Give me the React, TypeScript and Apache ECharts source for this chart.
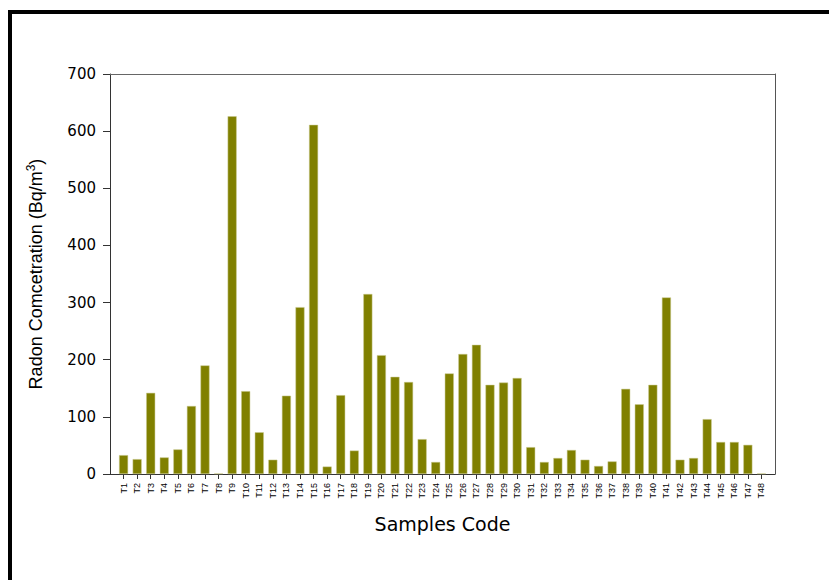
import React, { useEffect, useRef } from "react";
import * as echarts from "echarts";

const categories: string[] = Array.from({ length: 48 }, (_, i) => "T" + (i + 1));
const radonValues: number[] = [
  33, 26, 142, 29, 43, 119, 190, 1, 626, 145,
  73, 25, 137, 292, 611, 13, 138, 41, 315, 208,
  170, 161, 61, 21, 176, 210, 226, 156, 160, 168,
  47, 21, 28, 42, 25, 14, 22, 149, 122, 156,
  309, 25, 28, 96, 56, 56, 51, 1,
];
const yTicks = { min: 0, max: 700, interval: 100 };

export default function App() {
  const ref = useRef<HTMLDivElement>(null);
  useEffect(() => {
    document.body.style.margin = "0";
    if (!ref.current) return;
    const chart = echarts.init(ref.current, null, { renderer: "svg" });
    const padCats = ["", ...categories, ""];
    const padVals: (number | string)[] = ["-", ...radonValues, "-"];
    chart.setOption({
      animation: false,
      backgroundColor: "#fff",
      grid: { left: 110, top: 74, right: 54, bottom: 106 },
      graphic: [
        {
          type: "rect",
          shape: { x: 10, y: 12, width: 900, height: 700 },
          style: { fill: "none", stroke: "#000", lineWidth: 4 },
          silent: true,
        },
      ],
      xAxis: [
        {
          type: "category",
          data: padCats,
          boundaryGap: false,
          axisLine: { show: true, onZero: false, lineStyle: { color: "#333", width: 1 } },
          axisTick: {
            show: true,
            length: 5,
            lineStyle: { color: "#333" },
            interval: (_i: number, v: string) => v !== "",
          },
          axisLabel: {
            interval: 0,
            rotate: 90,
            fontSize: 9,
            fontFamily: "Liberation Sans",
            color: "#000",
            margin: 9,
          },
          name: "Samples Code",
          nameLocation: "middle",
          nameGap: 40,
          nameTextStyle: { fontSize: 19, fontFamily: "DejaVu Sans", color: "#000" },
          splitLine: { show: false },
        },
        {
          type: "category",
          data: padCats,
          boundaryGap: false,
          position: "top",
          axisLine: { show: true, onZero: false, lineStyle: { color: "#666", width: 1 } },
          axisTick: { show: false },
          axisLabel: { show: false },
          splitLine: { show: false },
        },
      ],
      yAxis: [
        {
          type: "value",
          min: yTicks.min,
          max: yTicks.max,
          interval: yTicks.interval,
          axisLine: { show: true, onZero: false, lineStyle: { color: "#333", width: 1 } },
          axisTick: { show: true, length: 7, lineStyle: { color: "#333" } },
          axisLabel: { fontSize: 15, fontFamily: "DejaVu Sans", color: "#000", margin: 14 },
          splitLine: { show: false },
          name: "Radon Comcetration (Bq/m{sup|3})",
          nameLocation: "middle",
          nameRotate: 90,
          nameGap: 64,
          nameTextStyle: {
            fontSize: 18,
            fontFamily: "Liberation Sans",
            color: "#000",
            rich: {
              sup: { fontSize: 12, fontFamily: "Liberation Sans", color: "#000", padding: [0, 0, 9, 0] },
            },
          },
        },
        {
          type: "value",
          min: yTicks.min,
          max: yTicks.max,
          interval: yTicks.interval,
          position: "right",
          axisLine: { show: true, onZero: false, lineStyle: { color: "#555", width: 1 } },
          axisTick: { show: false },
          axisLabel: { show: false },
          splitLine: { show: false },
        },
      ],
      series: [
        {
          type: "bar",
          data: padVals,
          barWidth: 9,
          itemStyle: { color: "#808000", borderColor: "#c9c98f", borderWidth: 0.5 },
        },
      ],
    });
    return () => chart.dispose();
  }, []);
  return <div ref={ref} style={{ width: 829, height: 580 }} />;
}
